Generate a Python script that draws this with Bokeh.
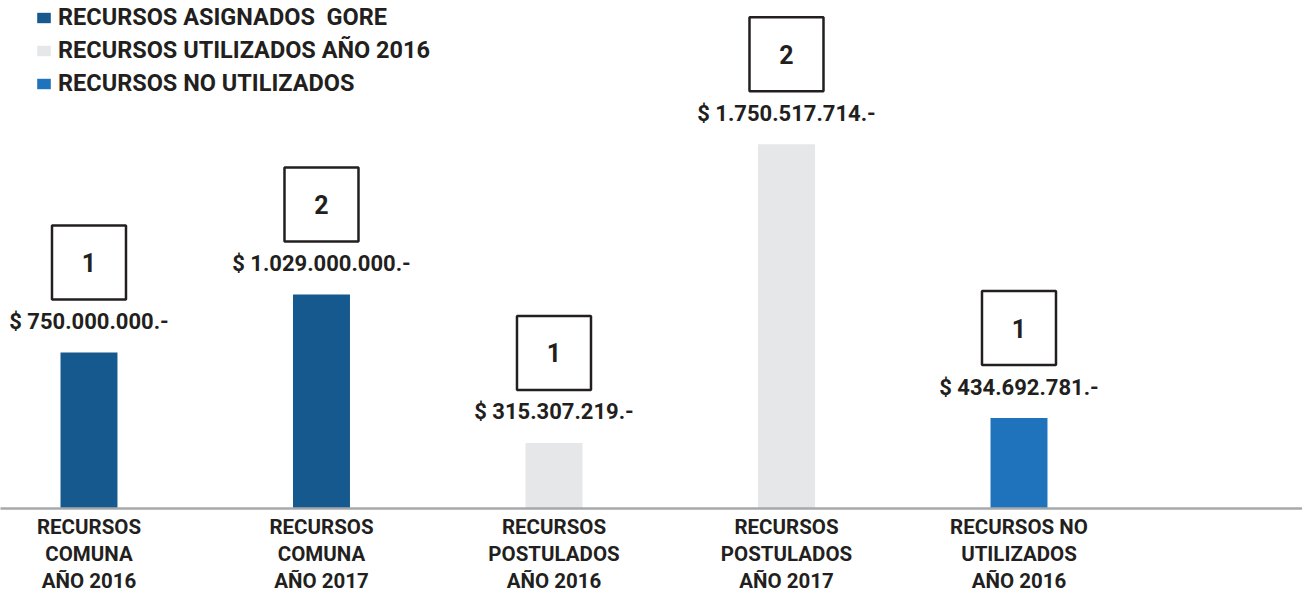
from bokeh.plotting import figure
from bokeh.models import ColumnDataSource, LabelSet, FixedTicker, Legend, LegendItem
from bokeh.core.properties import value
from bokeh.embed import file_html
from bokeh.resources import INLINE

# ---- data ----
categories = [
    "RECURSOS\nCOMUNA\nAÑO 2016",
    "RECURSOS\nCOMUNA\nAÑO 2017",
    "RECURSOS\nPOSTULADOS\nAÑO 2016",
    "RECURSOS\nPOSTULADOS\nAÑO 2017",
    "RECURSOS NO\nUTILIZADOS\nAÑO 2016",
]
values = [750000000, 1029000000, 315307219, 1750517714, 434692781]
value_labels = ["$ 750.000.000.-", "$ 1.029.000.000.-", "$ 315.307.219.-",
                "$ 1.750.517.714.-", "$ 434.692.781.-"]
box_numbers = ["1", "2", "1", "2", "1"]
legend_labels = ["RECURSOS ASIGNADOS  GORE", "RECURSOS UTILIZADOS AÑO 2016",
                 "RECURSOS NO UTILIZADOS"]
legend_colors = ["#15598f", "#e6e7e8", "#1f73bd"]
bar_group = [0, 0, 1, 1, 2]

# ---- layout constants ----
W, H = 1302, 596
BOTTOM = 88
FRAME_H = H - BOTTOM
Y_END = 2.442e9
PX_PER_UNIT = FRAME_H / Y_END
BOX_GAP_PX = 90
FONT = "Roboto"
TXT = "#231f20"

xs = list(range(len(values)))
src = ColumnDataSource(dict(
    x=xs,
    top=values,
    label=value_labels,
    num=box_numbers,
    box_y=[v + BOX_GAP_PX / PX_PER_UNIT for v in values],
    color=[legend_colors[g] for g in bar_group],
))

p = figure(width=W, height=H, output_backend="svg", toolbar_location=None,
           x_range=(-0.3806, 5.2194), y_range=(0, Y_END),
           y_axis_location=None, min_border_left=0, min_border_right=0,
           min_border_top=0, min_border_bottom=BOTTOM)
p.outline_line_color = None
p.grid.visible = False
p.background_fill_color = "white"

bars = p.vbar(x="x", top="top", width=0.245, bottom=0, source=src,
              fill_color="color", line_color=None)

p.rect(x="x", y="box_y", width=74, height=74, width_units="screen",
       height_units="screen", source=src, fill_color=None,
       line_color=TXT, line_width=2.5)

p.add_layout(LabelSet(x="x", y="box_y", text="num", source=src,
                      text_align="center", text_baseline="middle",
                      text_font=value(FONT), text_font_style="bold",
                      text_font_size="25px", text_color=TXT))
p.add_layout(LabelSet(x="x", y="top", text="label", source=src, y_offset=31,
                      text_align="center", text_baseline="middle",
                      text_font=value(FONT), text_font_style="bold",
                      text_font_size="22px", text_color=TXT))

ax = p.xaxis[0]
ax.ticker = FixedTicker(ticks=xs)
ax.major_label_overrides = {i: c for i, c in zip(xs, categories)}
ax.major_tick_line_color = None
ax.minor_tick_line_color = None
ax.axis_line_color = "#a6a8ab"
ax.axis_line_width = 2.5
ax.major_label_standoff = 0
ax.major_label_text_font = FONT
ax.major_label_text_font_style = "bold"
ax.major_label_text_font_size = "20.5px"
ax.major_label_text_color = TXT
ax.major_label_text_line_height = 1.13

items = [LegendItem(label=lab, renderers=[bars], index=bar_group.index(i))
         for i, lab in enumerate(legend_labels)]
leg = Legend(items=items, location=(35, FRAME_H - 2 - 96))
leg.margin = 0
leg.padding = 0
leg.spacing = 3
leg.label_height = 30
leg.glyph_height = 13
leg.glyph_width = 17
leg.label_standoff = 6
leg.border_line_color = None
leg.background_fill_alpha = 0
leg.label_text_font = FONT
leg.label_text_font_style = "bold"
leg.label_text_font_size = "23.5px"
leg.label_text_color = TXT
p.add_layout(leg)

open("out.html", "w").write(file_html(p, INLINE))
